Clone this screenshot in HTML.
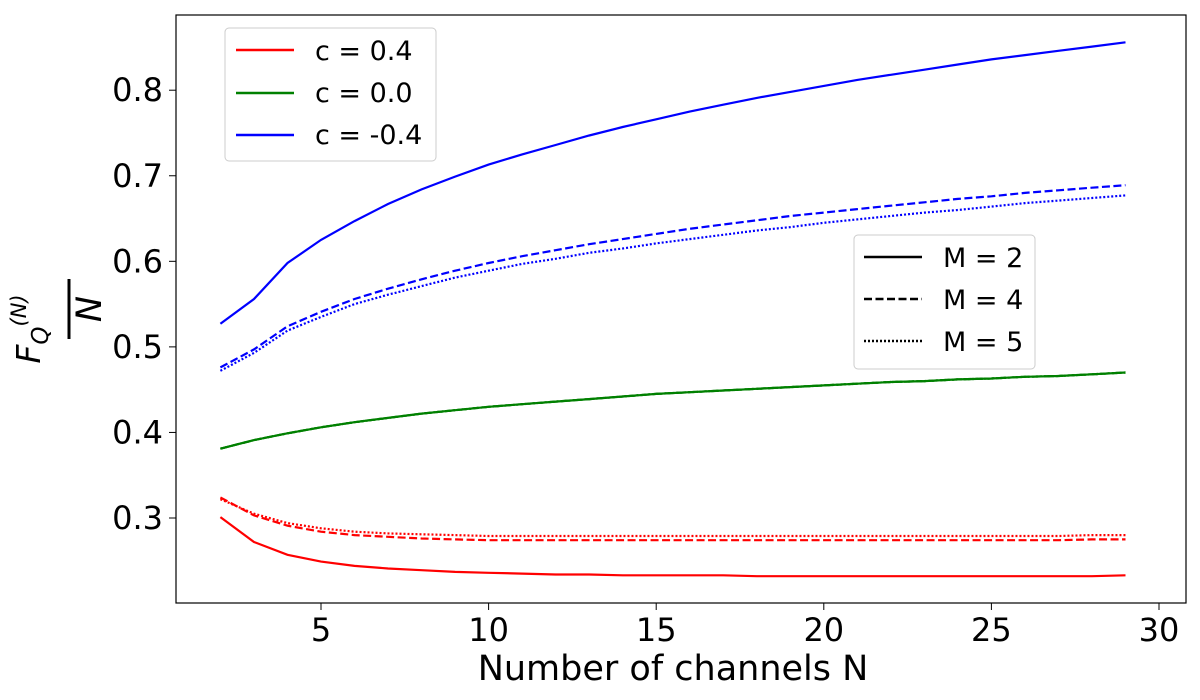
<!DOCTYPE html>
<html><head><meta charset="utf-8"><style>
html,body{margin:0;padding:0;background:#fff;}
svg{display:block;font-family:"DejaVu Sans","Liberation Sans",sans-serif;}
</style></head><body>
<svg id="chart" width="1200" height="700" viewBox="0 0 1200 700">
<rect x="0" y="0" width="1200" height="700" fill="#fff"/>
<g id="series"></g>
<rect x="176" y="15" width="1010" height="588" fill="none" stroke="#000" stroke-width="1.2"/>
<g id="xticks"></g>
<g id="yticks"></g>
<text x="673" y="680" font-size="35" text-anchor="middle">Number of channels N</text>
<g transform="translate(60,309) rotate(-90)">
  <text x="-20" y="-20" font-size="33" font-style="italic" text-anchor="middle">F<tspan font-size="23" dy="8">Q</tspan><tspan font-size="21" dy="-22" font-style="italic">(N)</tspan></text>
  <line x1="-30" y1="9" x2="30" y2="9" stroke="#000" stroke-width="3"/>
  <text x="0" y="41" font-size="35" font-style="italic" text-anchor="middle">N</text>
</g>
<g>
  <rect x="225" y="28" width="211" height="133" rx="4" fill="#fff" stroke="#ccc" stroke-width="1"/>
  <line x1="236" y1="50" x2="294" y2="50" stroke="#ff0000" stroke-width="2.4"/>
  <text x="315" y="60" font-size="27">c = 0.4</text>
  <line x1="236" y1="93" x2="294" y2="93" stroke="#008000" stroke-width="2.4"/>
  <text x="315" y="102" font-size="27">c = 0.0</text>
  <line x1="236" y1="135" x2="294" y2="135" stroke="#0000ff" stroke-width="2.4"/>
  <text x="315" y="144" font-size="27">c = -0.4</text>
</g>
<g>
  <rect x="854" y="235" width="181" height="134" rx="4" fill="#fff" stroke="#ccc" stroke-width="1"/>
  <line x1="864" y1="257" x2="922" y2="257" stroke="#000" stroke-width="2.4"/>
  <text x="943" y="267" font-size="27">M = 2</text>
  <line x1="864" y1="299" x2="922" y2="299" stroke="#000" stroke-width="2.4" stroke-dasharray="8,3.5"/>
  <text x="943" y="309" font-size="27">M = 4</text>
  <line x1="864" y1="341" x2="922" y2="341" stroke="#000" stroke-width="2.4" stroke-dasharray="2,2"/>
  <text x="943" y="351" font-size="27">M = 5</text>
</g>
</svg>
<script>
const Ns = [2,3,4,5,6,7,8,9,10,11,12,13,14,15,16,17,18,19,20,21,22,23,24,25,26,27,28,29];
const blueM2 = [.527,.556,.598,.625,.647,.667,.684,.699,.713,.725,.736,.747,.757,.766,.775,.783,.791,.798,.805,.812,.818,.824,.830,.836,.841,.846,.851,.856];
const blueM4 = [.476,.497,.524,.541,.556,.568,.579,.589,.598,.606,.613,.620,.626,.632,.638,.643,.648,.653,.657,.661,.665,.669,.673,.676,.680,.683,.686,.689];
const blueM5 = [.472,.493,.519,.535,.550,.561,.571,.581,.589,.597,.603,.610,.615,.621,.626,.631,.636,.640,.645,.649,.653,.657,.660,.664,.668,.671,.674,.677];
const greenM2 = [.381,.391,.399,.406,.412,.417,.422,.426,.430,.433,.436,.439,.442,.445,.447,.449,.451,.453,.455,.457,.459,.460,.462,.463,.465,.466,.468,.470];
const greenM4 = greenM2.slice();
const greenM5 = greenM2.slice();
const redM2 = [.301,.272,.257,.249,.244,.241,.239,.237,.236,.235,.234,.234,.233,.233,.233,.233,.232,.232,.232,.232,.232,.232,.232,.232,.232,.232,.232,.233];
const redM4 = [.324,.303,.291,.284,.280,.278,.276,.275,.274,.274,.274,.274,.274,.274,.274,.274,.274,.274,.274,.274,.274,.274,.274,.274,.274,.274,.275,.275];
const redM5 = [.322,.305,.294,.288,.284,.282,.281,.280,.279,.279,.279,.279,.279,.279,.279,.279,.279,.279,.279,.279,.279,.279,.279,.279,.279,.279,.280,.280];
const xTicks = [5,10,15,20,25,30];
const yTicks = [0.3,0.4,0.5,0.6,0.7,0.8];

const NS='http://www.w3.org/2000/svg';
function xs(n){return 321 + (n-5)*33.52;}
function ys(v){return 518 - (v-0.3)*855.6;}
const seriesG=document.getElementById('series');
const defs=[
 [redM2,'#ff0000','', 'red-m2'],[redM4,'#ff0000','8,3.5','red-m4'],[redM5,'#ff0000','2,2','red-m5'],
 [greenM2,'#008000','', 'green-m2'],[greenM4,'#008000','8,3.5','green-m4'],[greenM5,'#008000','2,2','green-m5'],
 [blueM2,'#0000ff','', 'blue-m2'],[blueM4,'#0000ff','8,3.5','blue-m4'],[blueM5,'#0000ff','2,2','blue-m5']];
defs.forEach(d=>{
  const p=document.createElementNS(NS,'polyline');
  p.setAttribute('points',Ns.map((n,i)=>xs(n).toFixed(1)+','+ys(d[0][i]).toFixed(1)).join(' '));
  p.setAttribute('fill','none');p.setAttribute('stroke',d[1]);p.setAttribute('stroke-width','2.2');
  if(d[2])p.setAttribute('stroke-dasharray',d[2]);
  
  
  seriesG.appendChild(p);
});
const xg=document.getElementById('xticks');
xTicks.forEach(t=>{
  const l=document.createElementNS(NS,'line');
  l.setAttribute('x1',xs(t));l.setAttribute('x2',xs(t));l.setAttribute('y1',603);l.setAttribute('y2',610);l.setAttribute('stroke','#000');
  
  
  xg.appendChild(l);
  const tx=document.createElementNS(NS,'text');
  tx.setAttribute('x',xs(t));tx.setAttribute('y',641);tx.setAttribute('font-size','32');tx.setAttribute('text-anchor','middle');
  tx.textContent=t;
  
  
  xg.appendChild(tx);
});
const yg=document.getElementById('yticks');
yTicks.forEach(t=>{
  const l=document.createElementNS(NS,'line');
  l.setAttribute('x1',169);l.setAttribute('x2',176);l.setAttribute('y1',ys(t));l.setAttribute('y2',ys(t));l.setAttribute('stroke','#000');
  
  
  yg.appendChild(l);
  const tx=document.createElementNS(NS,'text');
  tx.setAttribute('x',163);tx.setAttribute('y',ys(t)+11);tx.setAttribute('font-size','32');tx.setAttribute('text-anchor','end');
  tx.textContent=t.toFixed(1);
  
  
  yg.appendChild(tx);
});
</script>
</body></html>
